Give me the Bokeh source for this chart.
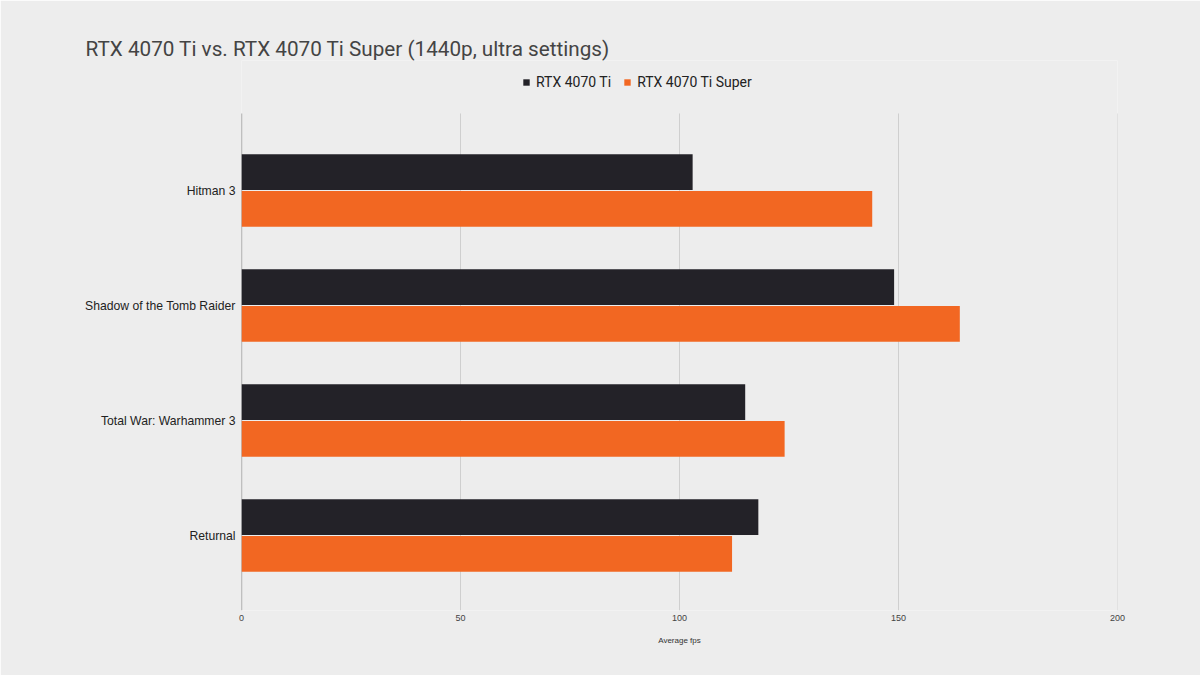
from bokeh.plotting import figure
from bokeh.models import Range1d, Legend, LegendItem, ColumnDataSource, FixedTicker
from bokeh.transform import dodge
from bokeh.embed import file_html
from bokeh.resources import INLINE

games = ["Hitman 3", "Shadow of the Tomb Raider", "Total War: Warhammer 3", "Returnal"]
series_names = ["RTX 4070 Ti", "RTX 4070 Ti Super"]
rtx_4070_ti = [103, 149, 115, 118]
rtx_4070_ti_super = [144, 164, 124, 112]
x_ticks = [0, 50, 100, 150, 200]
colors = ["#232228", "#f26722"]

# category slots, top to bottom
ypos = list(range(len(games) - 1, -1, -1))
src = ColumnDataSource(dict(game=games, ypos=ypos, ti=rtx_4070_ti, sup=rtx_4070_ti_super))

Y_BOTTOM, Y_TOP_GRID = -0.652, len(games) - 1 + 0.67
Y_TOP = Y_TOP_GRID + 53 / 115  # extra room inside the frame for the legend

W, H = 1200, 675
p = figure(width=W, height=H, output_backend="svg", toolbar_location=None,
           y_range=Range1d(Y_BOTTOM, Y_TOP), x_range=Range1d(0, 200),
           min_border_left=241, min_border_right=83, min_border_top=60, min_border_bottom=65)

p.background_fill_color = "#ededed"
p.border_fill_color = "#ededed"
p.outline_line_color = None

p.title.text = "\nRTX 4070 Ti vs. RTX 4070 Ti Super (1440p, ultra settings)"
p.title.text_font = "Roboto"
p.title.text_font_size = "20.7px"
p.title.text_font_style = "normal"
p.title.text_color = "#444444"
p.title.text_line_height = 1.0
p.title.align = "left"
p.title.offset = -156
p.title.standoff = 0

# grid lines and the y axis line, drawn only over the bar area
p.segment(x0=x_ticks[1:], x1=x_ticks[1:], y0=Y_BOTTOM, y1=Y_TOP_GRID, line_color="#cfcfcf", line_width=1)
p.segment(x0=x_ticks[:1], x1=x_ticks[:1], y0=Y_BOTTOM, y1=Y_TOP_GRID, line_color="#8c8c8c", line_width=1.3)

r1 = p.hbar(y=dodge("ypos", 0.16), right="ti", left=0, height=0.31,
            source=src, fill_color=colors[0], line_color=None)
r2 = p.hbar(y=dodge("ypos", -0.16), right="sup", left=0, height=0.31,
            source=src, fill_color=colors[1], line_color=None)

# axes
p.xaxis.ticker = FixedTicker(ticks=x_ticks)
p.xaxis.axis_line_color = None
p.xaxis.major_tick_line_color = None
p.xaxis.major_tick_out = 0
p.xaxis.minor_tick_line_color = None
p.xaxis.minor_tick_out = 0
p.xaxis.major_label_text_font = "Liberation Sans"
p.xaxis.major_label_text_font_size = "9px"
p.xaxis.major_label_text_color = "#444444"
p.xaxis.major_label_standoff = 4
p.xaxis.axis_label = "Average fps"
p.xaxis.axis_label_text_font = "Liberation Sans"
p.xaxis.axis_label_text_font_size = "8px"
p.xaxis.axis_label_text_font_style = "normal"
p.xaxis.axis_label_text_color = "#333333"
p.xaxis.axis_label_standoff = 12

p.yaxis.ticker = FixedTicker(ticks=ypos)
p.yaxis.major_label_overrides = {y: g for y, g in zip(ypos, games)}
p.yaxis.axis_line_color = None
p.yaxis.major_tick_line_color = None
p.yaxis.major_tick_out = 0
p.yaxis.minor_tick_line_color = None
p.yaxis.minor_tick_out = 0
p.yaxis.major_label_text_font = "Liberation Sans"
p.yaxis.major_label_text_font_size = "12.2px"
p.yaxis.major_label_text_color = "#222222"
p.yaxis.major_label_standoff = 6

p.xgrid.grid_line_color = None
p.ygrid.grid_line_color = None

# legend (inside the frame, above the bar area)
legend = Legend(items=[LegendItem(label=series_names[0], renderers=[r1]),
                       LegendItem(label=series_names[1], renderers=[r2])],
                orientation="horizontal", location=(281, 520),
                background_fill_alpha=0, border_line_color=None,
                label_text_font="Roboto", label_text_font_size="14px", label_text_color="#222222",
                glyph_width=8, glyph_height=8, padding=0, margin=0, spacing=12, label_standoff=6)
p.add_layout(legend, "center")

open("out.html", "w").write(file_html(p, INLINE))
